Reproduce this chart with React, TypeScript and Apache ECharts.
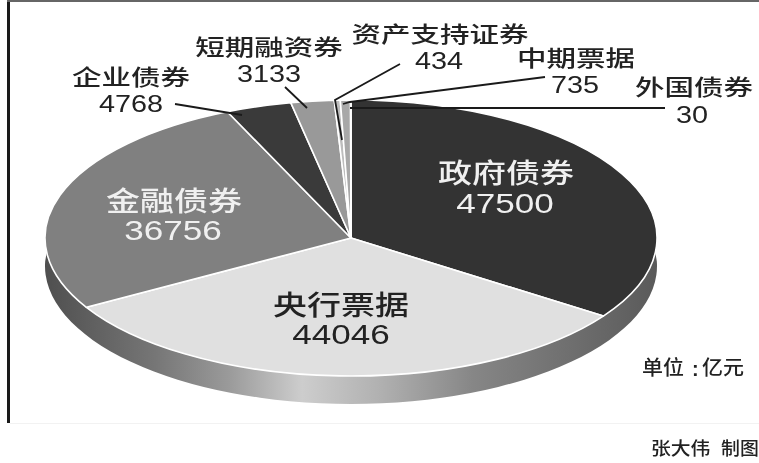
import React, { useEffect, useRef } from "react";
import * as echarts from "echarts";

const categories = ["政府债券", "央行票据", "金融债券", "企业债券", "短期融资券", "资产支持证券", "中期票据", "外国债券"];
const amounts = [47500, 44046, 36756, 4768, 3133, 434, 735, 30];

const sliceFill = ["#333333", "#e0e0e0", "#808080", "#3a3a3a", "#999999", "#bdbdbd", "#a8a8a8", "#d0d0d0"];

const CX = 351, CY = 238, RX = 306, RY = 138, DEPTH = 28;
const total = amounts.reduce((a, b) => a + b, 0);
const pt = (deg: number, dy = 0) => {
  const r = (deg * Math.PI) / 180;
  return [CX + RX * Math.sin(r), CY - RY * Math.cos(r) + dy];
};

const sans = '"Noto Sans CJK SC", "Liberation Sans", sans-serif';
const num = '"Liberation Sans", sans-serif';

// [name x, name y, value x, value y, big label?, light text?]
const labelPlace: [number, number, number, number, boolean, boolean][] = [
  [506, 171, 505, 204, true, true],
  [341, 303, 341, 335, true, false],
  [174, 199, 173, 231, true, true],
  [131, 75, 131, 104, false, false],
  [269, 45, 269, 74, false, false],
  [440, 32, 439, 61, false, false],
  [576, 56, 575, 85, false, false],
  [694, 85, 692, 115, false, false],
];

const leaderLines: number[][][] = [
  [[175, 104], [242, 115]],
  [[285, 87], [307, 108]],
  [[400, 64], [335, 100], [342, 140]],
  [[545, 77], [350, 102], [343, 104]],
  [[665, 108], [350, 108]],
];

function sectorPath(a0: number, a1: number) {
  const [x0, y0] = pt(a0);
  const [x1, y1] = pt(a1);
  const large = a1 - a0 > 180 ? 1 : 0;
  return `M${CX} ${CY}L${x0} ${y0}A${RX} ${RY} 0 ${large} 1 ${x1} ${y1}Z`;
}

export default function App() {
  const ref = useRef<HTMLDivElement>(null);
  useEffect(() => {
    document.body.style.margin = "0";
    const chart = echarts.init(ref.current!, undefined, { renderer: "svg" });
    const starts: number[] = [];
    let acc = 0;
    amounts.forEach((v) => {
      starts.push(acc);
      acc += (v / total) * 360;
    });

    const texts: any[] = [];
    const addText = (text: string, x: number, y: number, size: number, sx: number, fill: string, family: string, align = "center", weight = 500) =>
      texts.push({
        type: "text",
        x,
        y,
        scaleX: sx,
        z: 100,
        silent: true,
        style: { text, fontSize: size, fontFamily: family, fontWeight: weight, fill, align, verticalAlign: "middle" },
      });

    categories.forEach((name, i) => {
      const [nx, ny, vx, vy, big, light] = labelPlace[i];
      const fill = light ? "#f0f0f0" : "#222222";
      const perChar = big ? 34 : 29.5;
      const fs = big ? 27 : 22;
      addText(name, nx, ny, fs, perChar / fs, fill, sans);
      addText(String(amounts[i]), vx, vy, big ? 27 : 24, big ? 1.3 : 1.2, fill, num, "center", 400);
    });
    addText("单位", 642, 366, 20, 1.05, "#222222", sans, "left");
    addText(":", 692, 369, 20, 1, "#222222", num, "left", 700);
    addText("亿元", 702, 366, 20, 1.05, "#222222", sans, "left");
    addText("张大伟", 651, 447, 18, 1.1, "#222222", sans, "left");
    addText("制图", 721, 447, 18, 1.05, "#222222", sans, "left");

    const lines = leaderLines.map((points) => ({
      type: "polyline",
      z: 90,
      silent: true,
      shape: { points },
      style: { stroke: "#1a1a1a", lineWidth: 1.8, fill: "none" },
    }));

    chart.setOption({
      animation: false,
      backgroundColor: "#ffffff",
      series: [
        {
          type: "custom",
          coordinateSystem: "none",
          silent: true,
          z: 1,
          data: [0],
          renderItem: () => {
            const [lx, ly] = pt(264);
            const [rx, ry] = pt(96);
            const [brx, bry] = pt(88, DEPTH);
            const [blx, bly] = pt(272, DEPTH);
            return {
              type: "path",
              shape: {
                pathData: `M${lx} ${ly}A${RX} ${RY} 0 0 0 ${rx} ${ry}L${brx} ${bry}A${RX} ${RY} 0 1 1 ${blx} ${bly}Z`,
              },
              style: {
                fill: new echarts.graphic.LinearGradient(0, 0, 1, 0, [
                  { offset: 0, color: "#4f4f4f" },
                  { offset: 0.18, color: "#767676" },
                  { offset: 0.3, color: "#9a9a9a" },
                  { offset: 0.42, color: "#cdcdcd" },
                  { offset: 0.55, color: "#b0b0b0" },
                  { offset: 0.7, color: "#868686" },
                  { offset: 1, color: "#5a5a5a" },
                ]),
              },
            };
          },
        },
        {
          type: "custom",
          coordinateSystem: "none",
          silent: true,
          z: 2,
          data: amounts,
          renderItem: (p: any, api: any) => {
            const i = p.dataIndex;
            const a0 = starts[i];
            const a1 = a0 + (api.value(0) / total) * 360;
            return {
              type: "path",
              shape: { pathData: sectorPath(a0, a1) },
              style: { fill: sliceFill[i], stroke: "#ffffff", lineWidth: 1.6, lineJoin: "round" },
            };
          },
        },
      ],
      graphic: {
        elements: [
          { type: "rect", z: 80, silent: true, shape: { x: 7, y: 0, width: 3, height: 423 }, style: { fill: "#1a1a1a" } },
          { type: "rect", z: 80, silent: true, shape: { x: 7, y: 0, width: 752, height: 2 }, style: { fill: "#666666" } },
          { type: "rect", z: 80, silent: true, shape: { x: 10, y: 423, width: 749, height: 1 }, style: { fill: "#f2f2f2" } },
          ...lines,
          ...texts,
        ],
      },
    });
    return () => chart.dispose();
  }, []);
  return <div ref={ref} style={{ position: "absolute", left: 0, top: 0, width: 759, height: 463, filter: "blur(0.5px)" }} />;
}
